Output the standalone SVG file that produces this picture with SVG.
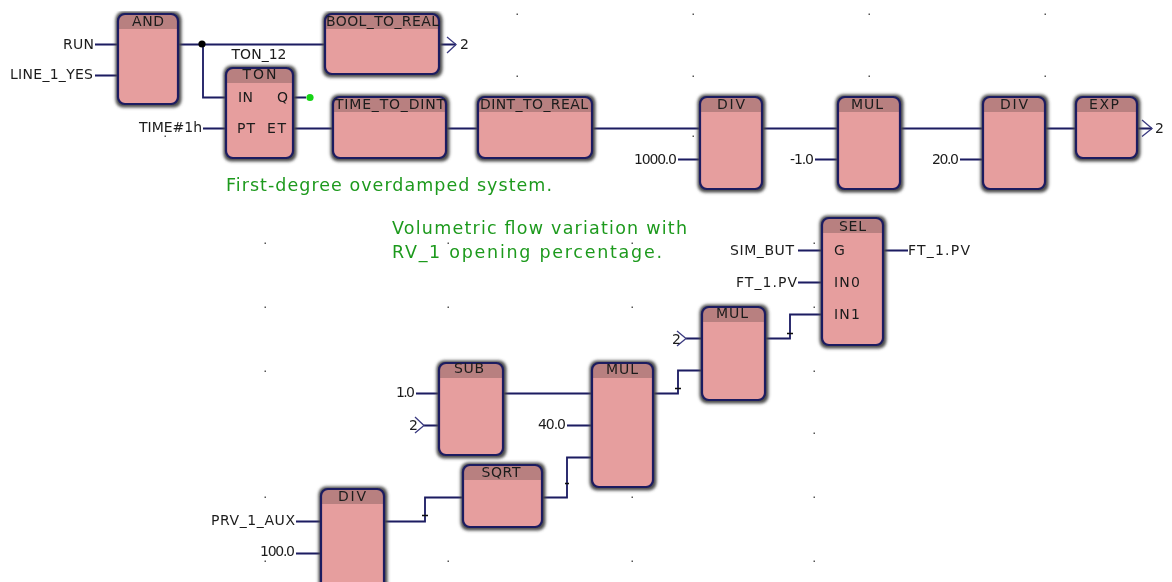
<svg xmlns="http://www.w3.org/2000/svg" width="1172" height="582" viewBox="0 0 1172 582">
<style>
text{font-family:"DejaVu Sans","Liberation Sans",sans-serif;font-size:14px;fill:#1c1c1c}
.e{text-anchor:end}.m{text-anchor:middle}
.g{font-size:17.500px;fill:#1f9a1f}
.shadow{fill:#4c4c4c;filter:url(#glow)}
.body{fill:#e69e9e}
.head{fill:#b88080}
.edge{fill:none;stroke:#1b1b60;stroke-width:2.200}
.wire{fill:none;stroke:#1b1b60;stroke-width:1.800}
.thin{fill:none;stroke:#3a3a80;stroke-width:1.300}
.tick{fill:none;stroke:#111;stroke-width:1.300}
.dot{fill:#555}
</style>
<defs>
<filter id="glow" x="-20%" y="-20%" width="140%" height="140%"><feGaussianBlur stdDeviation="1.600"/></filter>
<filter id="soft" x="0" y="0" width="100%" height="100%"><feGaussianBlur stdDeviation="0.350"/></filter>
</defs>
<rect width="1172" height="582" fill="#fff"/>
<g filter="url(#soft)">
<g id="grid" class="dot">
<rect x="516.500" y="13.500" width="1.500" height="1.500"/><rect x="692.500" y="13.500" width="1.500" height="1.500"/><rect x="868.500" y="13.500" width="1.500" height="1.500"/><rect x="1044.500" y="13.500" width="1.500" height="1.500"/>
<rect x="516.500" y="75.500" width="1.500" height="1.500"/><rect x="692.500" y="75.500" width="1.500" height="1.500"/><rect x="868.500" y="75.500" width="1.500" height="1.500"/><rect x="1044.500" y="75.500" width="1.500" height="1.500"/>
<rect x="692.500" y="135.500" width="1.500" height="1.500"/><rect x="164.500" y="135.500" width="1.500" height="1.500"/>
<rect x="264.500" y="242.500" width="1.500" height="1.500"/><rect x="447.500" y="242.500" width="1.500" height="1.500"/><rect x="631.500" y="242.500" width="1.500" height="1.500"/><rect x="813.500" y="242.500" width="1.500" height="1.500"/>
<rect x="264.500" y="306.500" width="1.500" height="1.500"/><rect x="447.500" y="306.500" width="1.500" height="1.500"/><rect x="631.500" y="306.500" width="1.500" height="1.500"/><rect x="813.500" y="306.500" width="1.500" height="1.500"/>
<rect x="264.500" y="370.500" width="1.500" height="1.500"/><rect x="813.500" y="370.500" width="1.500" height="1.500"/>
<rect x="813.500" y="432.500" width="1.500" height="1.500"/>
<rect x="264.500" y="496.500" width="1.500" height="1.500"/><rect x="631.500" y="496.500" width="1.500" height="1.500"/><rect x="813.500" y="496.500" width="1.500" height="1.500"/>
<rect x="264.500" y="560.500" width="1.500" height="1.500"/><rect x="447.500" y="560.500" width="1.500" height="1.500"/><rect x="631.500" y="560.500" width="1.500" height="1.500"/><rect x="813.500" y="560.500" width="1.500" height="1.500"/>
</g>
<g id="connectors">
<path class="wire" d="M95 44.500H118M95 75.500H118M178 44.500H325M203 44.500V97.500H226M293 97.500H306M203 128.500H226M293 128.500H333M446 128.500H478M592 128.500H700M762 128.500H838M900 128.500H983M1045 128.500H1076M678 159.500H700M815 159.500H838M960 159.500H983"/>
<path class="wire" d="M798 250.500H822M798 282.500H822M883 250.500H908M765 338.500H790V314.500H822M686 338.500H702M653 393.500H678V370.500H702M416 393.500H439M424 425.500H439M503 393.500H592M567 425.500H592M542 497.500H567V457.500H592M384 521.500H425V497.500H463M296 521.500H321M296 553.500H321"/>
<path class="wire" d="M439 44.500H456M1137 128.500H1152"/>
<path class="thin" d="M447 37L456 44.500L447 53M1142 120L1152 128.500L1142 136.500M677 331L686 338.500L677 346M415 417L424 425.500L415 433"/>
<path class="tick" d="M787 333.500H793M675 388.500H681M565 483.500H569M422 515.500H428"/>
<circle cx="202" cy="44" r="3.600" fill="#000"/>
<circle cx="310" cy="97.500" r="3.600" fill="#16d416"/>
</g>
<g id="and"><rect class="shadow" x="115.500" y="11.500" width="66" height="96" rx="8"/><rect class="body" x="118" y="14" width="60" height="90" rx="7"/><path class="head" d="M118 29V21a7 7 0 0 1 7-7h46a7 7 0 0 1 7 7V29Z"/><rect class="edge" x="118" y="14" width="60" height="90" rx="7"/><text class="m" x="148" y="26" textLength="32">AND</text></g>
<g id="bool_to_real"><rect class="shadow" x="322.500" y="11.500" width="120" height="66" rx="8"/><rect class="body" x="325" y="14" width="114" height="60" rx="7"/><path class="head" d="M325 29V21a7 7 0 0 1 7-7h100a7 7 0 0 1 7 7V29Z"/><rect class="edge" x="325" y="14" width="114" height="60" rx="7"/><text x="326" y="26" textLength="113">BOOL_TO_REAL</text></g>
<g id="ton"><rect class="shadow" x="223.500" y="65.500" width="73" height="96" rx="8"/><rect class="body" x="226" y="68" width="67" height="90" rx="7"/><path class="head" d="M226 83V75a7 7 0 0 1 7-7h53a7 7 0 0 1 7 7V83Z"/><rect class="edge" x="226" y="68" width="67" height="90" rx="7"/><text class="m" x="259.500" y="79" textLength="34">TON</text><text x="238" y="102" textLength="15">IN</text><text x="237" y="132.500" textLength="18">PT</text><text class="e" x="288" y="102">Q</text><text class="e" x="286" y="132.500" textLength="19">ET</text></g>
<g id="time_to_dint"><rect class="shadow" x="330.500" y="94.500" width="119" height="67" rx="8"/><rect class="body" x="333" y="97" width="113" height="61" rx="7"/><path class="head" d="M333 112V104a7 7 0 0 1 7-7h99a7 7 0 0 1 7 7V112Z"/><rect class="edge" x="333" y="97" width="113" height="61" rx="7"/><text x="335" y="109" textLength="110">TIME_TO_DINT</text></g>
<g id="dint_to_real"><rect class="shadow" x="475.500" y="94.500" width="120" height="67" rx="8"/><rect class="body" x="478" y="97" width="114" height="61" rx="7"/><path class="head" d="M478 112V104a7 7 0 0 1 7-7h100a7 7 0 0 1 7 7V112Z"/><rect class="edge" x="478" y="97" width="114" height="61" rx="7"/><text x="480" y="109" textLength="108">DINT_TO_REAL</text></g>
<g id="div1"><rect class="shadow" x="697.500" y="94.500" width="68" height="98" rx="8"/><rect class="body" x="700" y="97" width="62" height="92" rx="7"/><path class="head" d="M700 112V104a7 7 0 0 1 7-7h48a7 7 0 0 1 7 7V112Z"/><rect class="edge" x="700" y="97" width="62" height="92" rx="7"/><text class="m" x="731" y="109" textLength="28">DIV</text></g>
<g id="mul1"><rect class="shadow" x="835.500" y="94.500" width="68" height="98" rx="8"/><rect class="body" x="838" y="97" width="62" height="92" rx="7"/><path class="head" d="M838 112V104a7 7 0 0 1 7-7h48a7 7 0 0 1 7 7V112Z"/><rect class="edge" x="838" y="97" width="62" height="92" rx="7"/><text class="m" x="867" y="109" textLength="32">MUL</text></g>
<g id="div2"><rect class="shadow" x="980.500" y="94.500" width="68" height="98" rx="8"/><rect class="body" x="983" y="97" width="62" height="92" rx="7"/><path class="head" d="M983 112V104a7 7 0 0 1 7-7h48a7 7 0 0 1 7 7V112Z"/><rect class="edge" x="983" y="97" width="62" height="92" rx="7"/><text class="m" x="1014" y="109" textLength="28">DIV</text></g>
<g id="exp"><rect class="shadow" x="1073.500" y="94.500" width="67" height="67" rx="8"/><rect class="body" x="1076" y="97" width="61" height="61" rx="7"/><path class="head" d="M1076 112V104a7 7 0 0 1 7-7h47a7 7 0 0 1 7 7V112Z"/><rect class="edge" x="1076" y="97" width="61" height="61" rx="7"/><text class="m" x="1104" y="109" textLength="30">EXP</text></g>
<g id="sel"><rect class="shadow" x="819.500" y="215.500" width="67" height="133" rx="8"/><rect class="body" x="822" y="218" width="61" height="127" rx="7"/><path class="head" d="M822 233V225a7 7 0 0 1 7-7h47a7 7 0 0 1 7 7V233Z"/><rect class="edge" x="822" y="218" width="61" height="127" rx="7"/><text class="m" x="852.500" y="231" textLength="27">SEL</text><text x="834" y="255">G</text><text x="834" y="287" textLength="26">IN0</text><text x="834" y="319" textLength="26">IN1</text></g>
<g id="mul2"><rect class="shadow" x="699.500" y="304.500" width="69" height="99" rx="8"/><rect class="body" x="702" y="307" width="63" height="93" rx="7"/><path class="head" d="M702 322V314a7 7 0 0 1 7-7h49a7 7 0 0 1 7 7V322Z"/><rect class="edge" x="702" y="307" width="63" height="93" rx="7"/><text class="m" x="732" y="318" textLength="32">MUL</text></g>
<g id="sub"><rect class="shadow" x="436.500" y="360.500" width="70" height="98" rx="8"/><rect class="body" x="439" y="363" width="64" height="92" rx="7"/><path class="head" d="M439 378V370a7 7 0 0 1 7-7h50a7 7 0 0 1 7 7V378Z"/><rect class="edge" x="439" y="363" width="64" height="92" rx="7"/><text class="m" x="469" y="373" textLength="30">SUB</text></g>
<g id="mul3"><rect class="shadow" x="589.500" y="360.500" width="67" height="130" rx="8"/><rect class="body" x="592" y="363" width="61" height="124" rx="7"/><path class="head" d="M592 378V370a7 7 0 0 1 7-7h47a7 7 0 0 1 7 7V378Z"/><rect class="edge" x="592" y="363" width="61" height="124" rx="7"/><text class="m" x="622" y="374" textLength="32">MUL</text></g>
<g id="sqrt"><rect class="shadow" x="460.500" y="462.500" width="85" height="68" rx="8"/><rect class="body" x="463" y="465" width="79" height="62" rx="7"/><path class="head" d="M463 480V472a7 7 0 0 1 7-7h65a7 7 0 0 1 7 7V480Z"/><rect class="edge" x="463" y="465" width="79" height="62" rx="7"/><text class="m" x="501" y="477" textLength="39">SQRT</text></g>
<g id="div3"><rect class="shadow" x="318.500" y="486.500" width="69" height="107" rx="8"/><rect class="body" x="321" y="489" width="63" height="101" rx="7"/><path class="head" d="M321 504V496a7 7 0 0 1 7-7h49a7 7 0 0 1 7 7V504Z"/><rect class="edge" x="321" y="489" width="63" height="101" rx="7"/><text class="m" x="352" y="501" textLength="28">DIV</text></g>
<g id="labels">
<text x="63" y="49" textLength="31">RUN</text>
<text x="10" y="79" textLength="83">LINE_1_YES</text>
<text class="m" x="259" y="59" textLength="55">TON_12</text>
<text x="460" y="49">2</text>
<text x="1155" y="133">2</text>
<text x="139" y="132" textLength="63">TIME#1h</text>
<text x="634" y="164" textLength="43">1000.0</text>
<text x="790" y="164" textLength="24">-1.0</text>
<text x="932" y="164" textLength="27">20.0</text>
<text x="730" y="255" textLength="64">SIM_BUT</text>
<text x="736" y="287" textLength="61">FT_1.PV</text>
<text x="908" y="255" textLength="62">FT_1.PV</text>
<text x="672" y="344">2</text>
<text x="396" y="397" textLength="19">1.0</text>
<text x="409" y="430">2</text>
<text x="538" y="429" textLength="28">40.0</text>
<text x="211" y="525" textLength="84">PRV_1_AUX</text>
<text x="260" y="556" textLength="35">100.0</text>
<text class="g" x="226" y="191" textLength="326">First-degree overdamped system.</text>
<text class="g" x="392" y="234" textLength="295">Volumetric flow variation with</text>
<text class="g" x="392" y="258" textLength="270">RV_1 opening percentage.</text>
</g>
</g>
</svg>
